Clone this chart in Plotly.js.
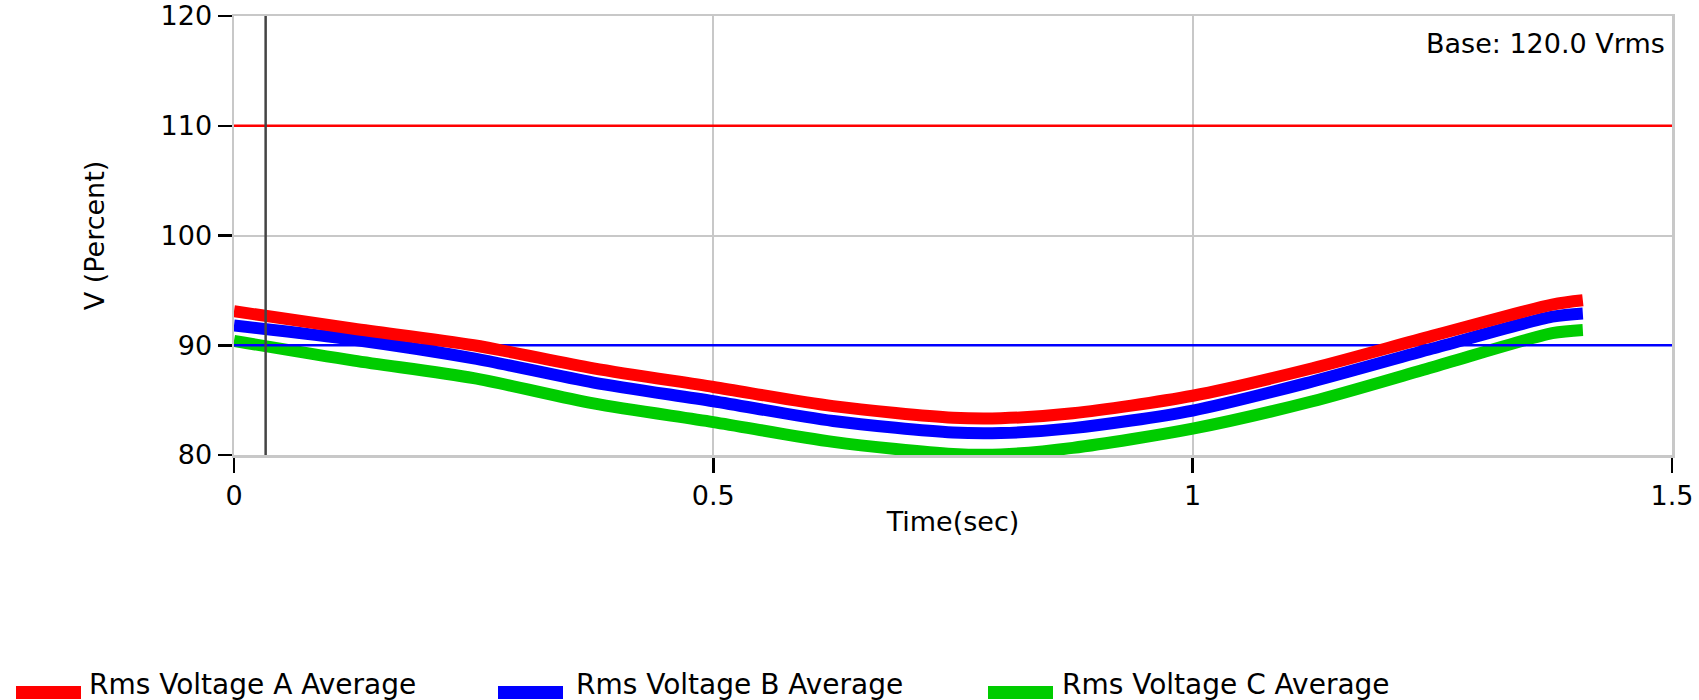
<!DOCTYPE html>
<html>
<head>
<meta charset="utf-8">
<script src="https://cdn.plot.ly/plotly-3.0.1.min.js"></script>
<style>html,body{margin:0;padding:0;background:#fff;}#chart{width:1699px;height:700px;}</style>
</head>
<body>
<div id="chart"></div>
<script>
// ---- data ----
const timeSec = [0, 0.125, 0.25, 0.375, 0.5, 0.625, 0.75, 0.8, 0.875, 1.0, 1.125, 1.25, 1.375, 1.407];
const rmsA = [93.1, 91.5, 90.0, 87.9, 86.2, 84.45, 83.4, 83.35, 83.8, 85.4, 87.9, 90.85, 93.7, 94.1];
const rmsB = [91.8, 90.5, 88.8, 86.6, 84.9, 83.1, 82.05, 82.0, 82.45, 84.05, 86.7, 89.7, 92.6, 92.9];
const rmsC = [90.4, 88.6, 87.0, 84.7, 83.0, 81.2, 80.1, 80.05, 80.65, 82.4, 84.9, 88.0, 91.1, 91.4];
const seriesNames = ["Rms Voltage A Average", "Rms Voltage B Average", "Rms Voltage C Average"];
const seriesColors = ["#ff0000", "#0000ff", "#00cc00"];
const xRange = [0, 1.5];
const yRange = [80, 120];
const upperLimit = 110;
const lowerLimit = 90;
const cursorTime = 0.033;
const xTickVals = [0, 0.5, 1, 1.5];
const xTickText = ["0", "0.5", "1", "1.5"];
const yTickVals = [80, 90, 100, 110, 120];
const baseText = "Base: 120.0 Vrms";

// ---- layout geometry ----
const W = 1699, H = 700;
const mL = 234, mR = 27, mT = 16, mB = 245;
const pw = W - mL - mR, ph = H - mT - mB;
const px2x = p => (p - mL) / pw;
const py2y = p => (H - mB - p) / ph;
const FONT = "DejaVu Sans";

const series = [rmsA, rmsB, rmsC];
const mk = i => ({
  x: timeSec, y: series[i], name: seriesNames[i], type: "scatter", mode: "lines",
  line: {color: seriesColors[i], width: 12, shape: "spline", smoothing: 0.8},
  showlegend: false, hoverinfo: "x+y+name"
});
const limitTrace = (v, c, n) => ({
  x: xRange, y: [v, v], name: n, type: "scatter", mode: "lines",
  line: {color: c, width: 2.5}, showlegend: false, hoverinfo: "skip"
});
const traces = [
  mk(2),
  limitTrace(lowerLimit, "#0000ff", "Lower limit"),
  mk(1),
  mk(0),
  limitTrace(upperLimit, "#ff0000", "Upper limit")
];

const shapes = [{
  type: "line", xref: "x", x0: cursorTime, x1: cursorTime, yref: "paper", y0: 0, y1: 1,
  line: {color: "#444444", width: 2.5}, layer: "above"
}];

// custom legend
const legSwatchX = [16, 498, 988];
const legTextX = [87, 574, 1060];
const annotations = [{
  xref: "paper", yref: "paper", x: px2x(1667), y: py2y(43), xanchor: "right", yanchor: "middle",
  text: baseText, showarrow: false, font: {family: FONT, size: 27, color: "#000"}
}];
seriesNames.forEach((n, i) => {
  shapes.push({
    type: "rect", xref: "paper", yref: "paper",
    x0: px2x(legSwatchX[i]), x1: px2x(legSwatchX[i] + 65),
    y0: py2y(699), y1: py2y(686),
    fillcolor: seriesColors[i], line: {width: 0}
  });
  annotations.push({
    xref: "paper", yref: "paper", x: px2x(legTextX[i]), y: py2y(684), xanchor: "left", yanchor: "middle",
    text: n, showarrow: false, font: {family: FONT, size: 28, color: "#000"}
  });
});

const layout = {
  width: W, height: H,
  margin: {l: mL, r: mR, t: mT, b: mB, pad: 0},
  paper_bgcolor: "#ffffff", plot_bgcolor: "#ffffff",
  font: {family: FONT, size: 27, color: "#000"},
  showlegend: false,
  xaxis: {
    range: xRange, tickvals: xTickVals, ticktext: xTickText,
    showgrid: true, gridcolor: "#c8c8c8", gridwidth: 2,
    showline: true, linecolor: "#c8c8c8", linewidth: 2.5, mirror: true,
    ticks: "outside", ticklen: 15, tickwidth: 2.5, tickcolor: "#000",
    zeroline: false, tickfont: {family: FONT, size: 27, color: "#000"},
    title: {text: "Time(sec)", font: {family: FONT, size: 27, color: "#000"}, standoff: 2}
  },
  yaxis: {
    range: yRange, tickvals: yTickVals,
    showgrid: true, gridcolor: "#c8c8c8", gridwidth: 2,
    showline: true, linecolor: "#c8c8c8", linewidth: 2.5, mirror: true,
    ticks: "outside", ticklen: 14, tickwidth: 2.5, tickcolor: "#000",
    zeroline: false, tickfont: {family: FONT, size: 27, color: "#000"},
    title: {text: "V (Percent)", font: {family: FONT, size: 27, color: "#000"}, standoff: 48}
  },
  shapes: shapes,
  annotations: annotations
};

Plotly.newPlot("chart", traces, layout, {staticPlot: true, displayModeBar: false});
</script>
</body>
</html>
